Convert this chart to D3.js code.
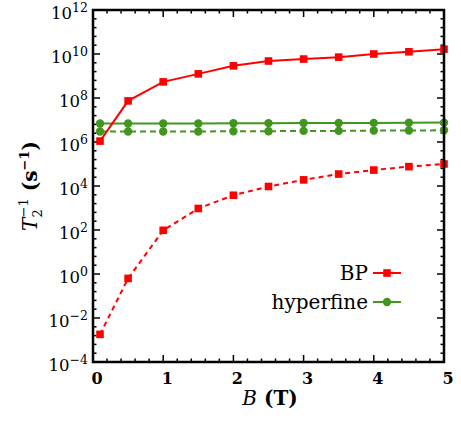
<!DOCTYPE html>
<html><head><meta charset="utf-8">
<script src="https://cdn.jsdelivr.net/npm/d3@7"></script>
<style>body{margin:0;background:#fff}svg{display:block}text{font-family:"DejaVu Serif",serif}</style>
</head><body>
<svg id="c" width="461" height="422"></svg>
<script>
const B = [0.1, 0.5, 1.0, 1.5, 2.0, 2.5, 3.0, 3.5, 4.0, 4.5, 5.0];
const bpSolid  = [1.1e6, 7.4e7, 5.4e8, 1.25e9, 2.9e9, 4.8e9, 5.9e9, 7.2e9, 1.0e10, 1.26e10, 1.66e10];
const bpDashed = [1.8e-3, 0.63, 97, 950, 3.8e3, 9.5e3, 1.9e4, 3.5e4, 5.3e4, 7.6e4, 1.0e5];
const hfSolid  = [6.9e6, 6.9e6, 7.0e6, 7.0e6, 7.1e6, 7.2e6, 7.3e6, 7.3e6, 7.4e6, 7.5e6, 7.6e6];
const hfDashed = [3.0e6, 3.0e6, 3.0e6, 3.0e6, 3.1e6, 3.1e6, 3.2e6, 3.2e6, 3.3e6, 3.3e6, 3.4e6];
const xTicks = [0, 1, 2, 3, 4, 5];
const yExps = [-4, -2, 0, 2, 4, 6, 8, 10, 12];
const legendLabels = ["BP", "hyperfine"];

const RED = "#ff0000", GREEN = "#41961f";
const L = 93, R = 444, T = 10, Bt = 362;
const svg = d3.select("#c");
const x = d3.scaleLinear().domain([0, 5]).range([L, R]);
const y = d3.scaleLog().domain([1e-4, 1e12]).range([Bt, T]);

// ticks
const g = svg.append("g").attr("stroke", "#000").attr("stroke-width", 1.5);
const xMinor = d3.range(0, 25.5).map(i => i * 0.2);
xMinor.forEach(v => {
  const major = Math.abs(v - Math.round(v)) < 1e-6;
  const len = major ? 7 : 3.5;
  g.append("line").attr("x1", x(v)).attr("x2", x(v)).attr("y1", Bt).attr("y2", Bt - len);
  g.append("line").attr("x1", x(v)).attr("x2", x(v)).attr("y1", T).attr("y2", T + len);
});
d3.range(0, 41).map(i => -4 + i * 0.4).forEach(e => {
  const major = Math.abs(e / 2 - Math.round(e / 2)) < 1e-6;
  const len = major ? 7 : 3.5;
  const yy = y(Math.pow(10, e));
  g.append("line").attr("x1", L).attr("x2", L + len).attr("y1", yy).attr("y2", yy);
  g.append("line").attr("x1", R).attr("x2", R - len).attr("y1", yy).attr("y2", yy);
});

// series
function series(vals, color, dash, marker) {
  const pts = B.map((b, i) => [x(b), y(vals[i])]);
  svg.append("path").attr("d", d3.line()(pts)).attr("fill", "none")
    .attr("stroke", color).attr("stroke-width", 2).attr("stroke-dasharray", dash);
  pts.forEach(p => {
    if (marker === "sq") svg.append("rect").attr("x", p[0] - 3.8).attr("y", p[1] - 3.8).attr("width", 7.6).attr("height", 7.6).attr("fill", color);
    else svg.append("circle").attr("cx", p[0]).attr("cy", p[1]).attr("r", 4.2).attr("fill", color);
  });
}
series(hfDashed, GREEN, "6,4", "c");
series(hfSolid, GREEN, null, "c");
series(bpDashed, RED, "5,4", "sq");
series(bpSolid, RED, null, "sq");

// frame
svg.append("rect").attr("x", L).attr("y", T).attr("width", R - L).attr("height", Bt - T)
  .attr("fill", "none").attr("stroke", "#000").attr("stroke-width", 2.5);

// x tick labels
xTicks.forEach(v => {
  svg.append("text").attr("x", x(v) + 4).attr("y", 384).attr("text-anchor", "middle")
    .attr("font-size", 16).attr("font-weight", "bold").text(v);
});
// y tick labels
yExps.forEach(e => {
  const t = svg.append("text").attr("x", 88).attr("y", y(Math.pow(10, e)) + 9)
    .attr("text-anchor", "end").attr("font-size", 16.5);
  t.append("tspan").text("10");
  t.append("tspan").attr("dy", -7).attr("font-size", 12.5).text(e < 0 ? "\u2212" + (-e) : e);
});

// x label
const xl = svg.append("text").attr("x", 270).attr("y", 405).attr("text-anchor", "middle").attr("font-size", 20);
xl.append("tspan").attr("font-style", "italic").text("B");
xl.append("tspan").attr("font-weight", "bold").text(" (T)");

// y label
const yl = svg.append("text").attr("transform", "translate(37,186) rotate(-90)")
  .attr("text-anchor", "middle").attr("font-size", 20);
yl.append("tspan").attr("font-style", "italic").text("T");
yl.append("tspan").attr("font-size", 13).attr("dy", 5).text("2");
yl.append("tspan").attr("font-size", 13).attr("dy", -14).attr("dx", -8).text("\u22121");
yl.append("tspan").attr("dy", 9).attr("font-weight", "bold").text(" (s");
yl.append("tspan").attr("font-size", 13).attr("font-weight", "bold").attr("dy", -8).text("\u22121");
yl.append("tspan").attr("dy", 8).attr("font-weight", "bold").text(")");

// legend
const leg = [[legendLabels[0], RED, "sq", 273], [legendLabels[1], GREEN, "c", 302]];
leg.forEach(([lab, col, m, ly]) => {
  svg.append("text").attr("x", 368).attr("y", ly + 7).attr("text-anchor", "end").attr("font-size", 20).text(lab);
  svg.append("line").attr("x1", 373).attr("x2", 401).attr("y1", ly).attr("y2", ly).attr("stroke", col).attr("stroke-width", 2);
  if (m === "sq") svg.append("rect").attr("x", 383.2).attr("y", ly - 3.8).attr("width", 7.6).attr("height", 7.6).attr("fill", col);
  else svg.append("circle").attr("cx", 387).attr("cy", ly).attr("r", 4.2).attr("fill", col);
});
</script>
</body></html>
